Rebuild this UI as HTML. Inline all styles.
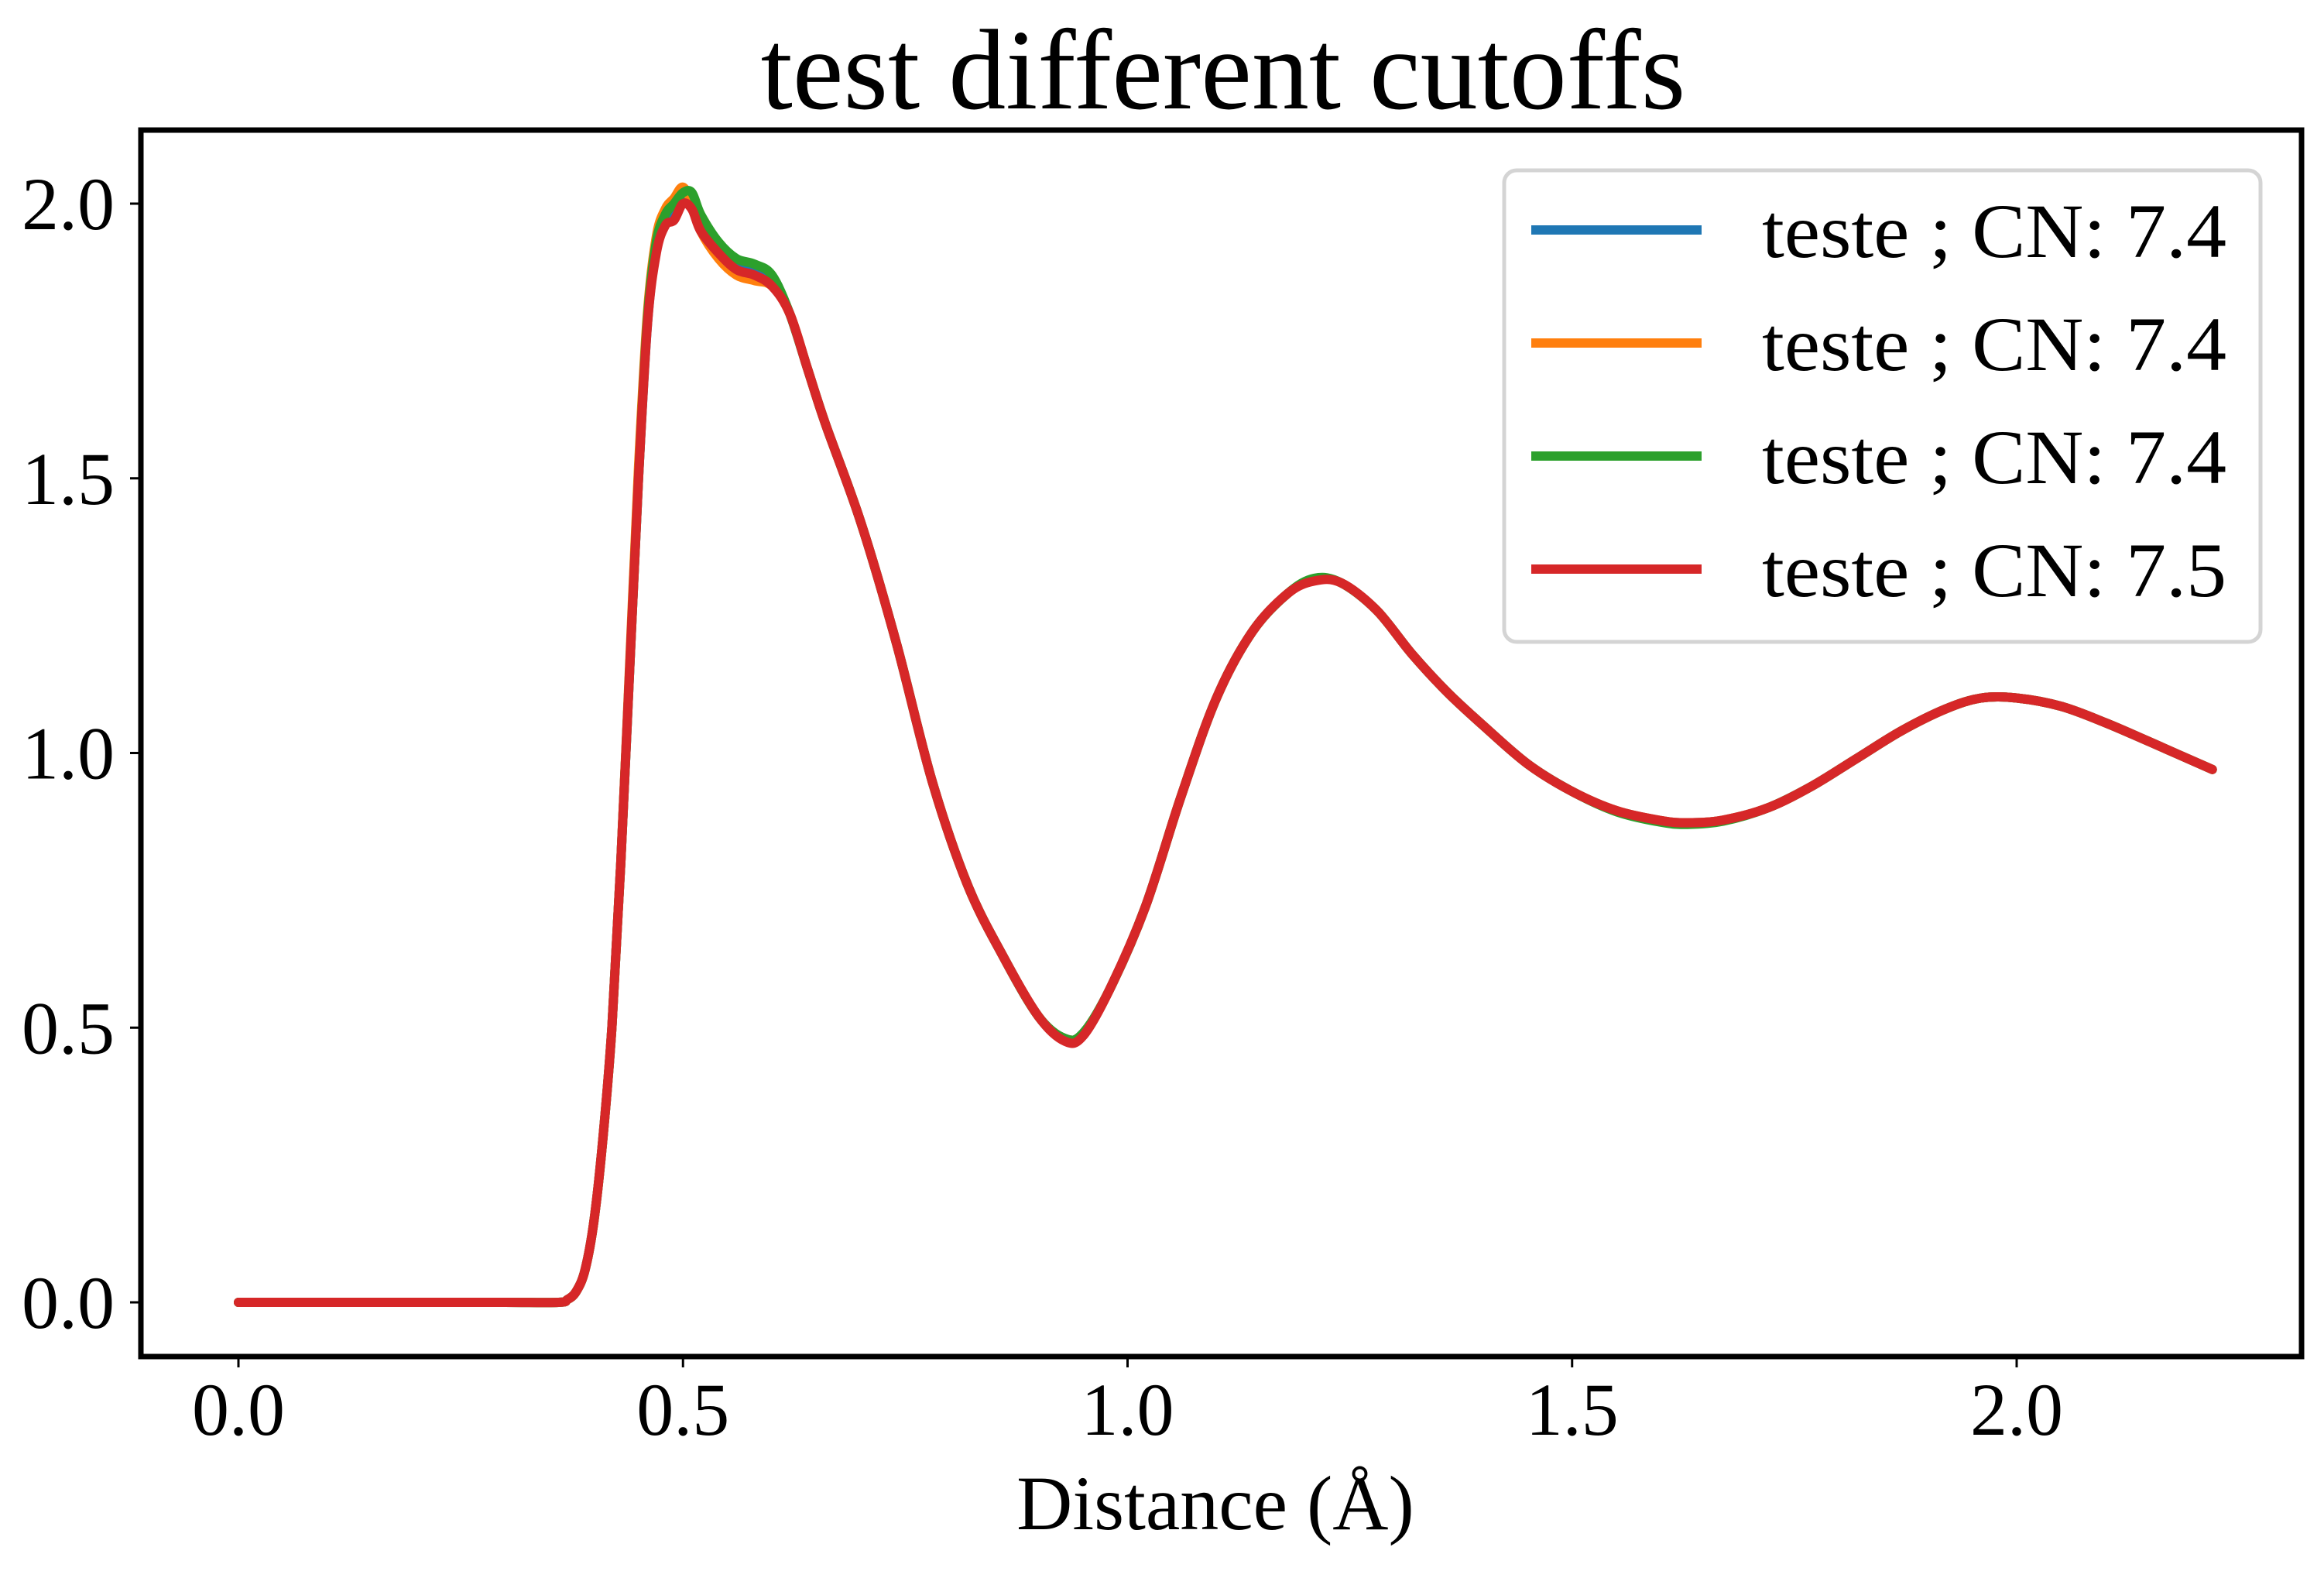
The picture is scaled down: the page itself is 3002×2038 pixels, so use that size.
<!DOCTYPE html>
<html><head><meta charset="utf-8"><style>
html,body{margin:0;padding:0;background:#fff;}
svg{display:block;font-family:"Liberation Serif",serif;}
</style></head><body>
<svg id="chart" width="3002" height="2038" viewBox="0 0 3002 2038">
<text x="1580" y="140" font-size="148" text-anchor="middle">test different cutoffs</text>
<text x="1570" y="1975" font-size="100" text-anchor="middle">Distance (Å)</text>
<g id="plot"></g>
<rect x="182" y="168" width="2791" height="1584" fill="none" stroke="#000" stroke-width="7"/>
<g id="legend"></g>
</svg>
<script>
const xs = [0,0.1,0.2,0.3,0.36,0.37,0.38,0.39,0.40,0.41,0.42,0.43,0.44,0.45,0.46,0.47,0.48,0.49,0.50,0.51,0.52,0.54,0.56,0.58,0.60,0.62,0.64,0.66,0.70,0.74,0.78,0.82,0.86,0.90,0.93,0.95,0.98,1.02,1.06,1.10,1.14,1.18,1.21,1.24,1.28,1.32,1.36,1.40,1.45,1.50,1.55,1.60,1.63,1.67,1.72,1.77,1.82,1.87,1.92,1.96,2.00,2.05,2.10,2.15,2.22];
const blueY  = [0,0,0,0,0,0.005,0.02,0.06,0.15,0.3,0.5,0.8,1.15,1.5,1.78,1.92,1.97,1.99,2.01,2.0,1.96,1.92,1.89,1.88,1.86,1.80,1.70,1.60,1.42,1.20,0.95,0.76,0.63,0.52,0.48,0.49,0.57,0.72,0.92,1.10,1.22,1.29,1.315,1.31,1.26,1.18,1.11,1.05,0.98,0.93,0.895,0.877,0.873,0.878,0.90,0.94,0.99,1.04,1.08,1.10,1.10,1.085,1.055,1.02,0.97];
const orangeY= [0,0,0,0,0,0.005,0.02,0.06,0.15,0.3,0.5,0.8,1.16,1.52,1.8,1.94,1.99,2.01,2.03,2.0,1.95,1.90,1.87,1.86,1.85,1.80,1.70,1.60,1.42,1.20,0.95,0.76,0.63,0.52,0.48,0.49,0.57,0.72,0.92,1.10,1.22,1.29,1.315,1.31,1.26,1.18,1.11,1.05,0.98,0.93,0.895,0.877,0.873,0.878,0.90,0.94,0.99,1.04,1.08,1.10,1.10,1.085,1.055,1.02,0.97];
const greenY = [0,0,0,0,0,0.005,0.02,0.06,0.15,0.3,0.5,0.8,1.15,1.5,1.79,1.93,1.98,2.0,2.02,2.02,1.98,1.93,1.90,1.89,1.87,1.80,1.70,1.60,1.42,1.20,0.95,0.76,0.63,0.52,0.48,0.49,0.57,0.72,0.92,1.10,1.22,1.29,1.318,1.31,1.26,1.18,1.11,1.05,0.98,0.93,0.893,0.874,0.870,0.876,0.90,0.94,0.99,1.04,1.08,1.10,1.10,1.085,1.055,1.02,0.97];
const redY   = [0,0,0,0,0,0.005,0.02,0.06,0.15,0.3,0.5,0.8,1.15,1.5,1.78,1.91,1.96,1.97,2.0,1.99,1.95,1.91,1.88,1.87,1.85,1.80,1.70,1.60,1.42,1.20,0.95,0.76,0.63,0.52,0.475,0.485,0.57,0.72,0.92,1.10,1.22,1.29,1.313,1.31,1.26,1.18,1.11,1.05,0.98,0.93,0.895,0.877,0.873,0.878,0.90,0.94,0.99,1.04,1.08,1.10,1.10,1.085,1.055,1.02,0.97];
const seriesNames = ["teste ; CN: 7.4","teste ; CN: 7.4","teste ; CN: 7.4","teste ; CN: 7.5"];
const seriesColors = ["#1f77b4","#ff7f0e","#2ca02c","#d62728"];
const xTicks = [0,0.5,1.0,1.5,2.0];
const xTickLabels = ["0.0","0.5","1.0","1.5","2.0"];
const yTicks = [0,0.5,1.0,1.5,2.0];
const yTickLabels = ["0.0","0.5","1.0","1.5","2.0"];

const NS="http://www.w3.org/2000/svg";
function sx(v){return 308+v*1148.5;}
function sy(v){return 1682-v*709.5;}
const plot=document.getElementById('plot');
const svg=document.getElementById('chart');
function mk(t,a){const e=document.createElementNS(NS,t);for(const k in a)e.setAttribute(k,a[k]);return e;}

xTicks.forEach((v,i)=>{
  const t=mk('line',{x1:sx(v),x2:sx(v),y1:1752,y2:1766,stroke:'#000','stroke-width':3});
  
  
  svg.appendChild(t);
  const l=mk('text',{x:sx(v),y:1853,'font-size':96,'text-anchor':'middle'});
  
  
  l.textContent=xTickLabels[i];svg.appendChild(l);
});
yTicks.forEach((v,i)=>{
  const t=mk('line',{x1:168,x2:182,y1:sy(v),y2:sy(v),stroke:'#000','stroke-width':3});
  
  
  svg.appendChild(t);
  const l=mk('text',{x:148,y:sy(v)+33,'font-size':96,'text-anchor':'end'});
  
  
  l.textContent=yTickLabels[i];svg.appendChild(l);
});
function smoothPath(pts){
  let d='M'+pts[0][0].toFixed(1)+' '+pts[0][1].toFixed(1);
  for(let i=0;i<pts.length-1;i++){
    const p0=pts[Math.max(0,i-1)],p1=pts[i],p2=pts[i+1],p3=pts[Math.min(pts.length-1,i+2)];
    const c1=[p1[0]+(p2[0]-p0[0])/6,p1[1]+(p2[1]-p0[1])/6];
    const c2=[p2[0]-(p3[0]-p1[0])/6,p2[1]-(p3[1]-p1[1])/6];
    d+=' C'+c1[0].toFixed(1)+' '+c1[1].toFixed(1)+' '+c2[0].toFixed(1)+' '+c2[1].toFixed(1)+' '+p2[0].toFixed(1)+' '+p2[1].toFixed(1);
  }
  return d;
}
const allY=[blueY,orangeY,greenY,redY];
allY.forEach((ys,k)=>{
  const pts=xs.map((x,i)=>[sx(x),sy(ys[i])]);
  const p=mk('path',{d:smoothPath(pts),fill:'none',stroke:seriesColors[k],'stroke-width':12,'stroke-linejoin':'round','stroke-linecap':'round'});
  
  
  plot.appendChild(p);
});
const lg=document.getElementById('legend');
const box=mk('rect',{x:1943,y:220,width:977,height:609,rx:16,fill:'#fff','fill-opacity':0.8,stroke:'#d4d4d4','stroke-width':5});


lg.appendChild(box);
seriesNames.forEach((n,k)=>{
  const y=297+k*146;
  const ln=mk('line',{x1:1978,x2:2198,y1:y,y2:y,stroke:seriesColors[k],'stroke-width':12});
  
  
  lg.appendChild(ln);
  const t=mk('text',{x:2276,y:y+35,'font-size':100,textLength:600,lengthAdjust:'spacingAndGlyphs'});
  
  
  t.textContent=n;lg.appendChild(t);
});
</script>
</body></html>
